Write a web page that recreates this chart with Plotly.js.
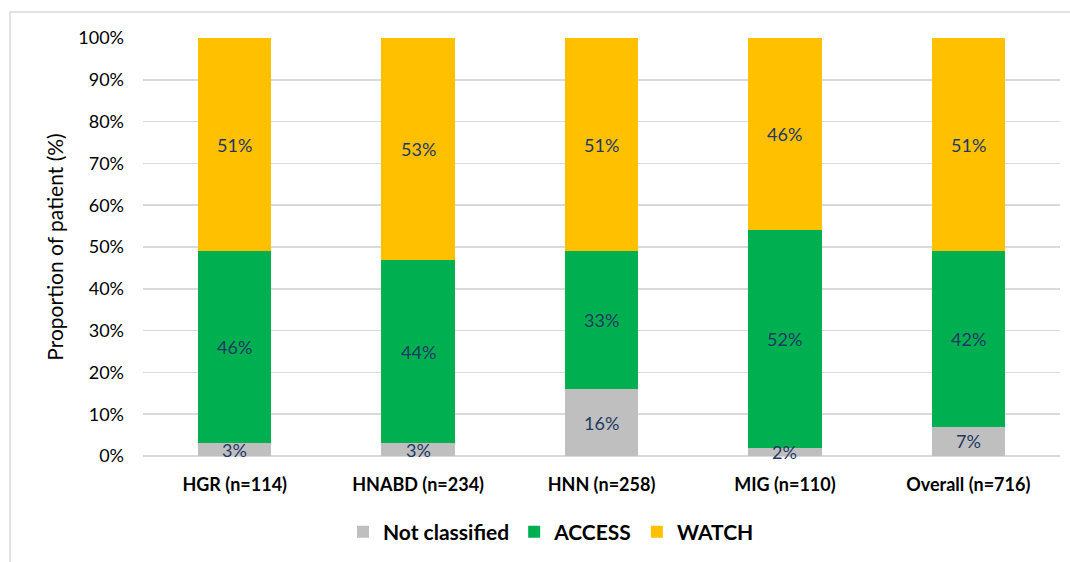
<!DOCTYPE html>
<html>
<head>
<meta charset="utf-8">
<script src="https://cdn.plot.ly/plotly-3.0.1.min.js"></script>
<style>
  html, body { margin: 0; padding: 0; background: #ffffff; }
  #chart { width: 1070px; height: 562px; }
</style>
</head>
<body>
<div id="chart"></div>
<script>
// Sites and their sample sizes
const categories = ['HGR (n=114)', 'HNABD (n=234)', 'HNN (n=258)', 'MIG (n=110)', 'Overall (n=716)'];

// Share of patients (%) by AWaRe group
const notClassified = [3, 3, 16, 2, 7];
const access = [46, 44, 33, 52, 42];
const watch = [51, 53, 51, 46, 51];

const seriesNames = ['Not classified', 'ACCESS', 'WATCH'];
const seriesColors = ['#BFBFBF', '#00B050', '#FFC000'];
const seriesValues = [notClassified, access, watch];

const FONT = 'Lato, "Open Sans", "Liberation Sans", sans-serif';
const LABEL_COLOR = '#1F3864';

const traces = seriesValues.map((vals, i) => ({
  type: 'bar',
  name: seriesNames[i],
  x: categories,
  y: vals,
  marker: { color: seriesColors[i], line: { width: 0 } },
  hoverinfo: 'x+y+name'
}));

// Value labels centred in each stacked segment
const annotations = [];
categories.forEach((cat, c) => {
  let base = 0;
  seriesValues.forEach(vals => {
    const v = vals[c];
    annotations.push({
      x: cat, y: base + v / 2, xref: 'x', yref: 'y',
      text: v + '%', showarrow: false,
      font: { family: FONT, size: 18, color: LABEL_COLOR }
    });
    base += v;
  });
});

// Chart-area frame
const L = 143, R = 1060, T = 38, B = 456;
const pw = R - L, ph = B - T;
const shapes = [{
  type: 'rect', xref: 'paper', yref: 'paper',
  x0: (10 - L) / pw, x1: (1075 - L) / pw,
  y0: (B - 570) / ph, y1: (B - 12) / ph,
  line: { color: '#D9D9D9', width: 1.5 }, fillcolor: 'rgba(0,0,0,0)', layer: 'below'
}];

const layout = {
  width: 1070, height: 562,
  margin: { l: L, r: 1070 - R, t: T, b: 562 - B, autoexpand: false },
  paper_bgcolor: '#ffffff', plot_bgcolor: '#ffffff',
  barmode: 'stack', bargap: 0.6,
  font: { family: FONT, color: '#000000' },
  showlegend: true,
  legend: {
    orientation: 'h', x: (551 - L) / pw, xanchor: 'center', xref: 'paper',
    y: -0.133, yanchor: 'top',
    font: { family: FONT, size: 21, color: '#000000', weight: 'bold' },
    itemwidth: 30, traceorder: 'normal'
  },
  xaxis: {
    type: 'category', tickfont: { family: FONT, size: 18, weight: 'bold', color: '#000000' },
    showgrid: false, zeroline: false, showline: false, ticks: '', ticklabelstandoff: 16
  },
  yaxis: {
    range: [0, 100], dtick: 10, ticksuffix: '%',
    tickfont: { family: FONT, size: 18, color: '#000000' },
    showgrid: true, gridcolor: '#D9D9D9', gridwidth: 1.5,
    zeroline: true, zerolinecolor: '#D9D9D9', zerolinewidth: 1.5,
    showline: false, ticks: '', ticklabelstandoff: 18,
    title: { text: 'Proportion of patient (%)', font: { family: FONT, size: 21, color: '#000000' }, standoff: 8 }
  },
  annotations: annotations,
  shapes: shapes
};

Plotly.newPlot('chart', traces, layout, { displayModeBar: false, staticPlot: true });
</script>
</body>
</html>
